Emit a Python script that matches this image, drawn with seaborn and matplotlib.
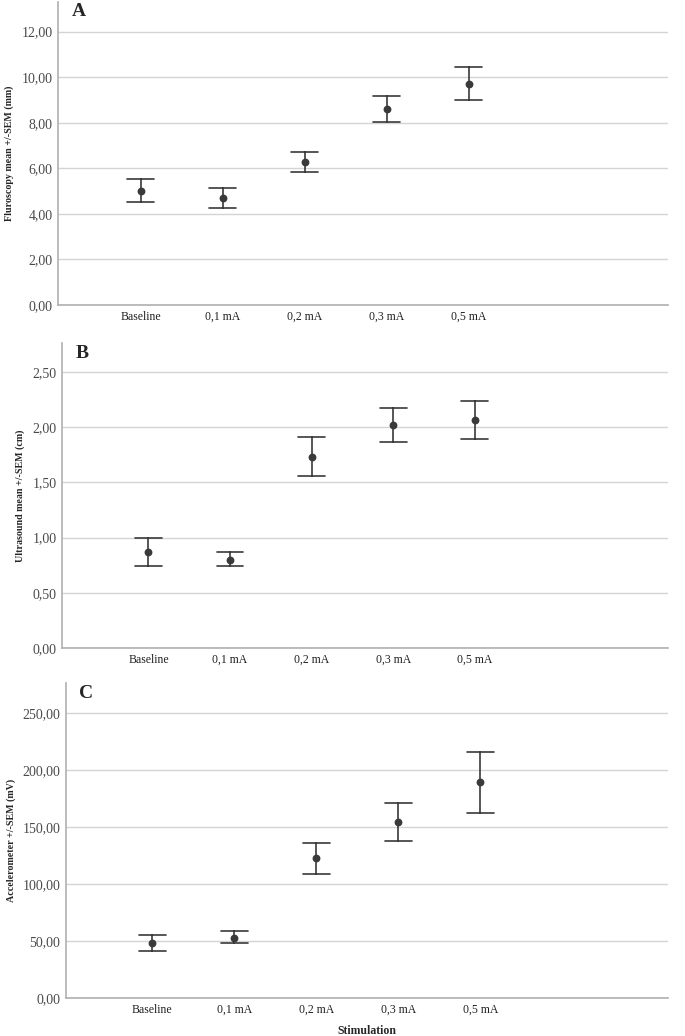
import matplotlib
matplotlib.use("Agg")
import matplotlib.pyplot as plt
import pandas as pd
import seaborn as sns

categories = ["Baseline", "0,1 mA", "0,2 mA", "0,3 mA", "0,5 mA"]

fluoro_mean = [5.02, 4.70, 6.28, 8.62, 9.72]
fluoro_low = [4.50, 4.27, 5.85, 8.05, 8.98]
fluoro_high = [5.55, 5.12, 6.72, 9.18, 10.45]

ultra_mean = [0.87, 0.80, 1.73, 2.02, 2.06]
ultra_low = [0.74, 0.74, 1.56, 1.865, 1.89]
ultra_high = [1.00, 0.865, 1.91, 2.175, 2.235]

accel_mean = [48.0, 53.0, 122.5, 154.0, 189.0]
accel_low = [41.0, 48.0, 109.0, 137.5, 162.0]
accel_high = [55.5, 58.5, 136.0, 170.5, 216.0]


def long_table(mean, low, high):
    rows = []
    for cat, m, lo, hi in zip(categories, mean, low, high):
        for v in (lo, m, hi):
            rows.append({"Stimulation": cat, "value": v})
    return pd.DataFrame(rows)


sns.set_style("white")
plt.rcParams["font.family"] = ["Liberation Serif", "DejaVu Serif"]

fig = plt.figure(figsize=(6.85, 10.36), dpi=100)

panels = [
    ("A", fluoro_mean, fluoro_low, fluoro_high, "Fluroscopy mean +/-SEM (mm)",
     [0.0847, 0.7056, 0.8905, 0.2925], 13.3, range(0, 13, 2), (-1.01, 6.43)),
    ("B", ultra_mean, ultra_low, ultra_high, "Ultrasound mean +/-SEM (cm)",
     [0.0905, 0.3745, 0.8847, 0.2944], 2.76, [0, 0.5, 1.0, 1.5, 2.0, 2.5], (-1.06, 6.37)),
    ("C", accel_mean, accel_low, accel_high, "Accelerometer +/-SEM (mV)",
     [0.0964, 0.0367, 0.8788, 0.3040], 276, range(0, 251, 50), (-1.05, 6.29)),
]

for letter, mean, low, high, ylabel, rect, ytop, yticks, xlim in panels:
    ax = fig.add_axes(rect)
    df = long_table(mean, low, high)
    sns.pointplot(data=df, x="Stimulation", y="value", estimator="median",
                  errorbar=("pi", 100), capsize=0.33, linestyle="none",
                  color="#3a3a3a", markersize=3.6, err_kws={"linewidth": 1.2},
                  ax=ax)
    ax.set_ylim(0, ytop)
    ax.set_xlim(*xlim)
    ax.set_yticks(list(yticks))
    ax.set_yticklabels([f"{t:.2f}".replace(".", ",") for t in yticks])
    ax.yaxis.grid(True, color="#d4d4d4", linewidth=1)
    ax.set_axisbelow(True)
    for side in ("top", "right"):
        ax.spines[side].set_visible(False)
    for side in ("left", "bottom"):
        ax.spines[side].set_color("#b0b0b0")
        ax.spines[side].set_linewidth(1.2)
    ax.tick_params(axis="both", length=0, pad=4)
    ax.tick_params(axis="y", labelsize=10, labelcolor="#4a4a4a")
    ax.tick_params(axis="x", labelcolor="#202020", labelsize=8.5)
    ax.set_ylabel(ylabel, fontsize=7.2, fontweight="bold", labelpad=5)
    ax.set_xlabel("")
    ax.text(0.022, 0.995, letter, transform=ax.transAxes, fontsize=14,
            fontweight="bold", va="top", ha="left")

ax.set_xlabel("Stimulation", fontsize=8.5, fontweight="bold", labelpad=7)

fig.savefig("out.png", dpi=100)
